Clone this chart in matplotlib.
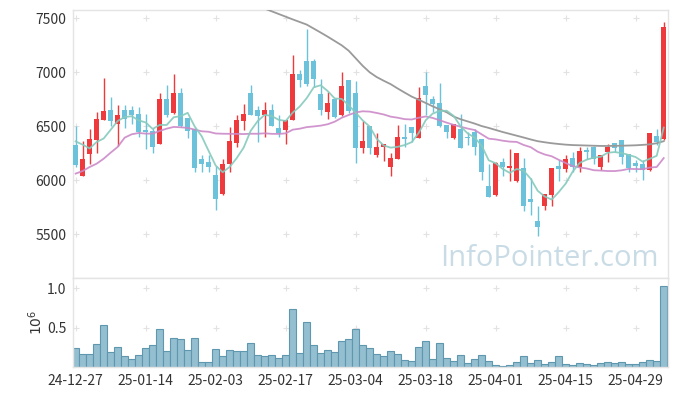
import numpy as np
import pandas as pd
import matplotlib
matplotlib.use("Agg")
import matplotlib.pyplot as plt

# ---------------- data ----------------
tick_labels = ["24-12-27", "25-01-14", "25-02-03", "25-02-17", "25-03-04",
               "25-03-18", "25-04-01", "25-04-15", "25-04-29"]
tick_bars = [0, 10, 20, 30, 40, 50, 60, 70, 80]

open_ = [6327, 6043, 6247, 6373, 6559, 6651, 6525, 6648, 6648, 6614,
         6466, 6457, 6340, 6753, 6627, 6809, 6577, 6478, 6198, 6170,
         6049, 5877, 6148, 6349, 6552, 6809, 6651, 6608, 6651, 6485,
         6469, 6562, 6985, 7105, 7105, 6799, 6636, 6753, 6608, 6929,
         6806, 6302, 6503, 6238, 6306, 6127, 6201, 6401, 6494, 6395,
         6876, 6753, 6716, 6512, 6389, 6475, 6395, 6444, 6383, 5948,
         5861, 6170, 6117, 5991, 6114, 5827, 5623, 5759, 5861, 6133,
         6108, 6210, 6127, 6284, 6306, 6127, 6262, 6346, 6370, 6241,
         6157, 6148, 6093, 6411, 6380]
high = [6503, 6367, 6472, 6630, 6944, 6768, 6698, 6698, 6691, 6676,
        6611, 6488, 6806, 6880, 6981, 6858, 6580, 6480, 6232, 6232,
        6132, 6194, 6491, 6605, 6704, 6883, 6688, 6722, 6704, 6602,
        6560, 7157, 7022, 7401, 7120, 6938, 6815, 6756, 7006, 6930,
        6923, 6549, 6505, 6435, 6335, 6250, 6509, 6518, 6497, 6864,
        7006, 6781, 6901, 6515, 6525, 6614, 6444, 6478, 6385, 6154,
        6167, 6204, 6287, 6256, 6204, 6019, 5765, 5872, 6114, 6188,
        6235, 6262, 6309, 6309, 6315, 6238, 6333, 6348, 6372, 6243,
        6185, 6185, 6438, 6472, 7463]
low = [6120, 6040, 6148, 6250, 6556, 6503, 6318, 6488, 6525, 6404,
       6290, 6250, 6335, 6590, 6617, 6494, 6395, 6074, 6074, 6080,
       5729, 5864, 6074, 6312, 6466, 6605, 6352, 6398, 6500, 6404,
       6333, 6556, 6864, 6870, 6864, 6608, 6565, 6580, 6596, 6620,
       6164, 6253, 6241, 6213, 6182, 6037, 6198, 6306, 6352, 6390,
       6602, 6633, 6491, 6389, 6385, 6300, 6324, 6238, 6000, 5845,
       5858, 6037, 5997, 5988, 5716, 5676, 5485, 5725, 5759, 5997,
       6077, 6077, 6077, 6198, 6151, 6093, 6170, 6265, 6154, 6080,
       6077, 6003, 6090, 6330, 6376]
close = [6145, 6198, 6383, 6568, 6642, 6549, 6605, 6565, 6605, 6451,
         6451, 6306, 6750, 6602, 6809, 6503, 6460, 6117, 6151, 6124,
         5830, 6151, 6364, 6556, 6614, 6608, 6599, 6651, 6506, 6435,
         6556, 6985, 6932, 6895, 6935, 6654, 6716, 6590, 6873, 6645,
         6302, 6364, 6302, 6309, 6333, 6204, 6401, 6386, 6441, 6762,
         6790, 6710, 6506, 6451, 6522, 6302, 6389, 6312, 6074, 5849,
         6164, 6124, 6133, 6253, 5765, 5796, 5565, 5870, 6111, 6108,
         6194, 6120, 6272, 6262, 6201, 6235, 6306, 6302, 6219, 6111,
         6136, 6093, 6435, 6358, 7417]
volume = [237000, 160000, 160000, 290000, 530000, 190000, 250000, 135000, 100000, 150000,
          240000, 275000, 480000, 200000, 365000, 350000, 210000, 365000, 60000, 60000,
          225000, 135000, 210000, 200000, 200000, 300000, 150000, 135000, 150000, 110000,
          150000, 730000, 175000, 570000, 275000, 175000, 210000, 190000, 330000, 355000,
          480000, 275000, 237000, 160000, 135000, 200000, 160000, 85000, 72000, 250000,
          326000, 97000, 300000, 110000, 72000, 148000, 47000, 97000, 148000, 72000,
          20000, 8000, 20000, 60000, 135000, 47000, 85000, 34000, 60000, 135000,
          34000, 20000, 47000, 34000, 20000, 47000, 60000, 47000, 60000, 34000,
          34000, 60000, 85000, 72000, 1030000]

# moving-average values before enough history exists in this window
ma5_lead = [6360, 6330, 6295, 6355]
ma20_lead = [6062, 6086, 6123, 6154, 6200, 6256, 6309, 6395, 6426, 6438,
             6432, 6432, 6457, 6478, 6494, 6491, 6485, 6469, 6454]
ma_long_first_bar = 26
ma_long = [7615, 7590, 7565, 7540, 7515, 7490, 7466, 7442, 7405, 7368,
           7330, 7290, 7250, 7200, 7130, 7060, 7000, 6956, 6922, 6890,
           6850, 6812, 6775, 6746, 6716, 6685, 6657, 6630, 6590, 6565,
           6545, 6525, 6502, 6485, 6466, 6447, 6430, 6413, 6396, 6378,
           6362, 6352, 6343, 6336, 6330, 6326, 6324, 6322, 6320, 6318,
           6318, 6319, 6320, 6322, 6324, 6328, 6333, 6343, 6362]

# ---------------- derived ----------------
n = len(close)
x = np.arange(n)
o = np.array(open_, float); h = np.array(high, float)
l = np.array(low, float); c = np.array(close, float)
cs = pd.Series(c)
ma5 = cs.rolling(5).mean().to_numpy(); ma5[:4] = ma5_lead
ma20 = cs.rolling(20).mean().to_numpy(); ma20[:19] = ma20_lead
x_long = np.arange(ma_long_first_bar, ma_long_first_bar + len(ma_long))

UP = "#ee3a3d"
DOWN = "#6cc2da"
up = c >= o
colors = np.where(up, UP, DOWN)

plt.rcParams['font.family'] = ['Noto Sans CJK KR', 'DejaVu Sans']

fig = plt.figure(figsize=(6.77, 3.96), dpi=100)
W, H = 677.0, 396.0
L, R = 73.3 / W, 667.7 / W
ax = fig.add_axes([L, 1 - 278 / H, R - L, (278 - 10) / H])
axv = fig.add_axes([L, 1 - 367 / H, R - L, (367 - 278) / H])

xlim = (-0.34, 84.57)

# watermark
ax.text(0.985, 0.043, "InfoPointer.com", transform=ax.transAxes, ha="right",
        va="baseline", fontsize=21, color="#c9dce6", zorder=0,
        family=["Open Sans", "DejaVu Sans"])

# candles
ax.vlines(x, l, h, colors=colors, lw=1.0, zorder=2)
body_b = np.minimum(o, c)
body_h = np.maximum(np.abs(c - o), 10)
ax.bar(x, body_h, bottom=body_b, width=0.72, color=colors, lw=0, zorder=3)

# moving averages
ax.plot(x_long, ma_long, color="#9a9a9a", lw=1.3, zorder=4)
ax.plot(x, ma20, color="#cc8ac9", lw=1.3, alpha=0.9, zorder=4)
ax.plot(x, ma5, color="#86cabd", lw=1.3, alpha=0.9, zorder=5)

ax.set_xlim(*xlim)
ax.set_ylim(5095, 7577)
yt = [5500, 6000, 6500, 7000, 7500]
ax.set_yticks(yt)
ax.set_yticklabels([str(v) for v in yt])
ax.set_xticks([])

# volume
vol_m = np.array(volume) / 1e6
axv.bar(x, vol_m, width=1.0, color="#94bfd0", edgecolor="#5f97af", lw=0.8, zorder=2)
axv.set_xlim(*xlim)
axv.set_ylim(0, 1.127)
axv.set_yticks([0.5, 1.0])
axv.set_yticklabels(["0.5", "1.0"])
axv.set_xticks(tick_bars)
axv.set_xticklabels(tick_labels)
fig.text(36 / W, 1 - 322 / H, r"$10^{6}$", rotation=90, ha="center", va="center",
         fontsize=10, color="#333333")

# grid crosses
for a, ys in ((ax, yt), (axv, [0.5, 1.0])):
    gx, gy = np.meshgrid(tick_bars, ys)
    a.plot(gx.ravel(), gy.ravel(), ls="none", marker="+", ms=5, mew=0.8,
           color="#e2e2e2", zorder=1)
    for s in a.spines.values():
        s.set_color("#e4e4e4")
        s.set_linewidth(1.0)
    a.tick_params(length=0, labelsize=10, colors="#333333", pad=5)

fig.savefig("out.png", dpi=100, facecolor="white")
